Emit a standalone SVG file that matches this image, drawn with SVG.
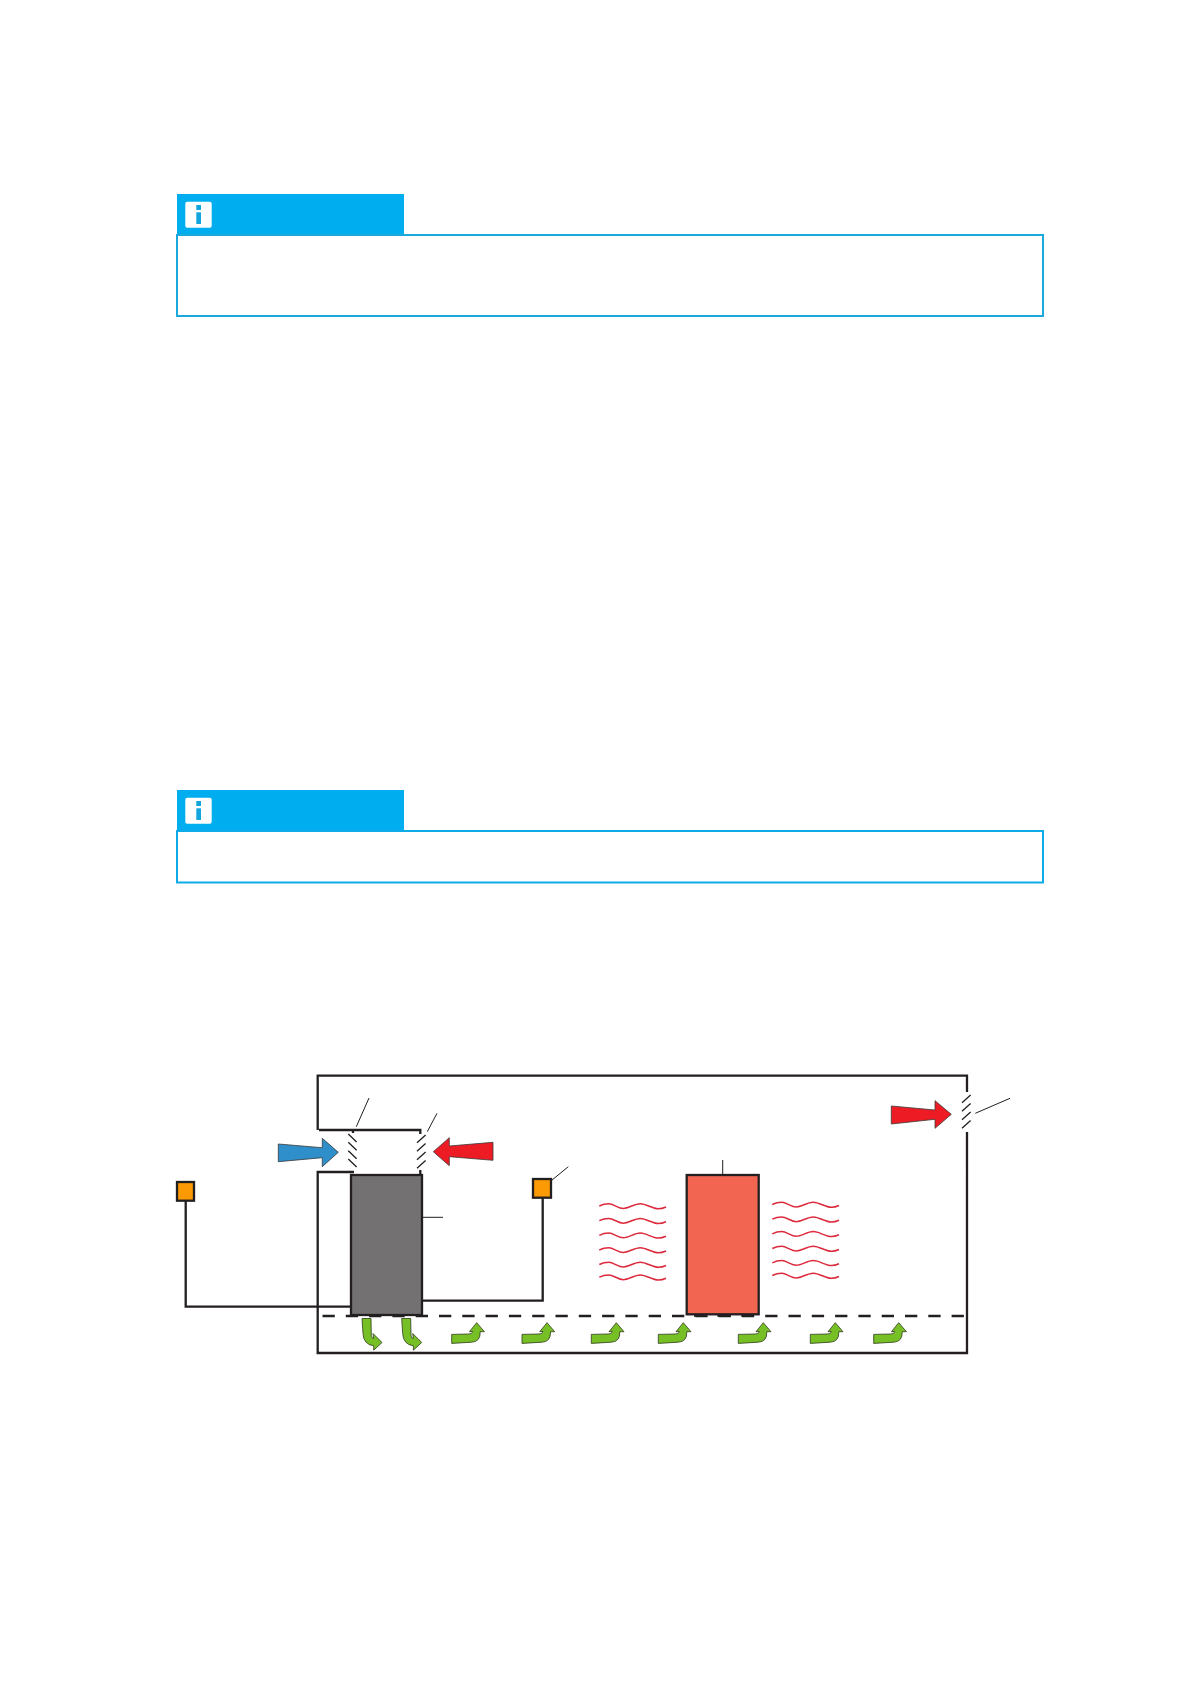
<svg xmlns="http://www.w3.org/2000/svg" width="1191" height="1684" viewBox="0 0 1191 1684">
<style>
.tab{fill:#00aeef}
.box{fill:#fff;stroke:#1ba9dc;stroke-width:2}
.box2{fill:#fff;stroke:#0fabe8;stroke-width:2}
.wall{fill:none;stroke:#231f20;stroke-width:2.300}
.thin{fill:none;stroke:#231f20;stroke-width:1}
.louver{fill:none;stroke:#231f20;stroke-width:1.300}
.wave{fill:none;stroke:#dc2a3c;stroke-width:1.500}
.green{fill:#76bf25;stroke:#2f3a1a;stroke-width:.8}
.arrow{stroke:#3a3a3a;stroke-width:.8}
.sensor{fill:#fb9a05;stroke:#231f20;stroke-width:2.300}
</style>
<defs>
<g id="icon"><rect x="185.300" y="201.700" width="26.400" height="26" rx="2" fill="#fff"/><rect x="196.300" y="205" width="4.700" height="5" fill="#12a5dd"/><rect x="196.300" y="212.300" width="4.700" height="11.700" fill="#12a5dd"/></g>
<path id="wv" class="wave" d="M0,0.500C3,-1 6,-1.700 9.500,-1.700C14,-1.700 19,3 24,3C29,3 35,-1.700 41,-1.700C47,-1.700 53,3.300 59,3.300C62,3.300 64.500,2.500 66.700,1.500"/>
<path id="up" class="green" d="M0,11.700L17,11.300Q21,11.300 21,8.700L17.700,9L25,0L32.700,9L28.500,9Q29,19 20,19.500L0,20.700Z"/>
<path id="down" class="green" d="M0,0L9,0L9.300,16.700Q9.500,20 11.700,20L11,15L20,24L11.700,31.700L11.700,27.300Q1.500,26 1,15Z"/>
<g id="louverL" class="louver"><path d="M0,0l8.300,8M0,8.300l8.300,8M0,16.700l8.300,8M0,25l8.300,8"/></g>
<g id="louverR" class="louver"><path d="M8.600,0l-8.600,7.700M8.600,8.500l-8.600,7.700M8.600,17l-8.600,7.700M8.600,25.500l-8.600,7.700"/></g>
</defs>
<rect width="1191" height="1684" fill="#fff"/>

<g id="note-1"><rect class="tab" x="177" y="194" width="227" height="41"/><rect class="box" x="177" y="235" width="866" height="81"/><use href="#icon"/></g>
<g id="note-2"><rect class="tab" x="177" y="790" width="227" height="41"/><rect class="box2" x="177" y="831" width="866" height="51.500"/><use href="#icon" y="596"/></g>

<g id="connectors">
<path class="wall" d="M354,1172H317.700V1353H967V1132M967,1092V1075.700H317.700V1130M319,1130H420.300V1134M420.300,1170V1175M353,1130V1133"/>
<path class="wall" stroke-dasharray="12.300 11" stroke-dashoffset="17.800" d="M317,1316H967"/>
<path class="wall" d="M185.700,1200V1306.700H351M542.700,1197V1300.700H422"/>
<path class="thin" d="M369,1098L356.300,1126.700M437,1113.300L427.300,1131.700M568.300,1166.700L550,1181.700M421.700,1217.300H443M722.700,1160V1181.700M975.300,1113.300L1010,1098.300"/>
<use href="#louverL" x="348.300" y="1134"/>
<use href="#louverR" x="417" y="1135"/>
<use href="#louverR" x="962" y="1095"/>
</g>

<g id="duct-blue-arrow"><path class="arrow" fill="#2f8fca" d="M278.300,1144L322.300,1147.700V1138.300L338.300,1152.300L322.300,1166.700V1157.700L278.300,1161.700Z"/></g>
<g id="duct-red-arrow"><path class="arrow" fill="#ed1c24" d="M493,1142.300L449.300,1146V1137.700L433.300,1151.700L449.300,1165.700V1156.700L493,1160.300Z"/></g>
<g id="wall-red-arrow"><path class="arrow" fill="#ed1c24" d="M891.300,1106L935,1110V1100.700L951.300,1114.300L935,1128.300V1119.300L891.300,1124Z"/></g>

<g id="unit-grey"><rect x="351" y="1175" width="71" height="140" fill="#737171" stroke="#231f20" stroke-width="2.300"/></g>
<g id="heater-red"><rect x="686.700" y="1175" width="72" height="139.300" fill="#f26651" stroke="#231f20" stroke-width="2.300"/>
<path class="wall" stroke-width="3" d="M694,1315.500H707M717.300,1315.500H730M741.300,1315.500H754"/></g>
<g id="sensor-left"><rect class="sensor" x="177" y="1182" width="17" height="18.700"/></g>
<g id="sensor-right"><rect class="sensor" x="533" y="1179" width="18" height="18.700"/></g>

<g id="waves-left">
<use href="#wv" x="599.300" y="1205.500"/><use href="#wv" x="599.300" y="1220.200"/><use href="#wv" x="599.300" y="1234.800"/><use href="#wv" x="599.300" y="1249.500"/><use href="#wv" x="599.300" y="1264"/><use href="#wv" x="599.300" y="1276.700"/>
</g>
<g id="waves-right">
<use href="#wv" x="772.300" y="1204"/><use href="#wv" x="772.300" y="1218.700"/><use href="#wv" x="772.300" y="1233.300"/><use href="#wv" x="772.300" y="1248"/><use href="#wv" x="772.300" y="1262.300"/><use href="#wv" x="772.300" y="1275"/>
</g>

<g id="air-flow">
<use href="#down" x="362" y="1318.500"/><use href="#down" x="401.700" y="1318.500"/>
<use href="#up" x="451.700" y="1322.700"/><use href="#up" x="522" y="1322.700"/><use href="#up" x="591.300" y="1322.700"/><use href="#up" x="658.300" y="1322.700"/><use href="#up" x="738.300" y="1322.700"/><use href="#up" x="810.300" y="1322.700"/><use href="#up" x="873.700" y="1322.700"/>
</g>
</svg>
